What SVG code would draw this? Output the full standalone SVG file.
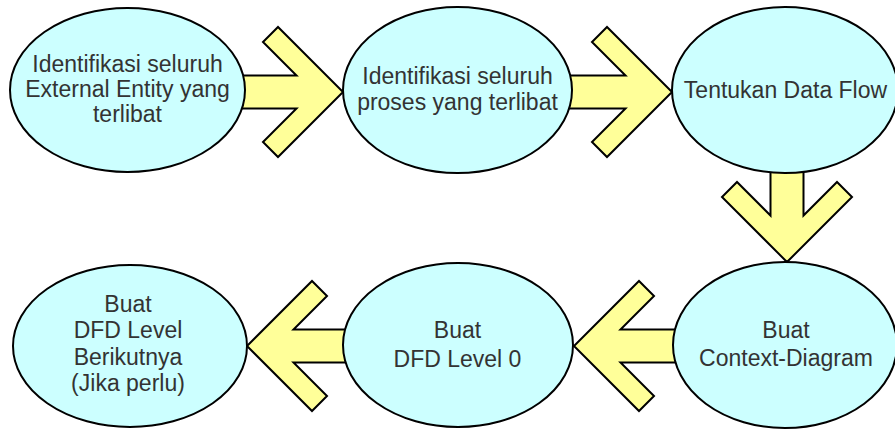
<svg xmlns="http://www.w3.org/2000/svg" width="895" height="429" viewBox="0 0 895 429">
<style>
.node ellipse{fill:#ccffff;stroke:#000;stroke-width:2}
.arrow{fill:#ffff99;stroke:#000;stroke-width:2;stroke-linejoin:miter}
text{font-family:"Liberation Sans",Arial,sans-serif;font-size:23px;fill:#333;text-anchor:middle}
</style>
<rect width="895" height="429" fill="#fff"/>
<g id="connectors">
<path class="arrow" d="M238,75.5 H296.5 L263,42 L278,27 L343,92 L278,157 L263,142 L296.5,108.5 H238 Z"/>
<path class="arrow" d="M566,75.5 H625.5 L592,42 L607,27 L672,92 L607,157 L592,142 L625.5,108.5 H566 Z"/>
<path class="arrow" d="M770.5,168 V215.5 L737,182 L722,197 L787,262 L852,197 L837,182 L803.5,215.5 V168 Z"/>
<path class="arrow" d="M678,329.5 H620.5 L654,296 L639,281 L574,346 L639,411 L654,396 L620.5,362.5 H678 Z"/>
<path class="arrow" d="M349,329.5 H293.5 L327,296 L312,281 L247,346 L312,411 L327,396 L293.5,362.5 H349 Z"/>
</g>
<g id="n1" class="node">
<ellipse cx="127.5" cy="90" rx="117.5" ry="82"/>
<text x="127.5" y="72">Identifikasi seluruh</text>
<text x="127.5" y="97">External Entity yang</text>
<text x="127.5" y="122">terlibat</text>
</g>
<g id="n2" class="node">
<ellipse cx="457.5" cy="90" rx="114.5" ry="83"/>
<text x="457.5" y="84">Identifikasi seluruh</text>
<text x="457.5" y="110">proses yang terlibat</text>
</g>
<g id="n3" class="node">
<ellipse cx="785" cy="90" rx="113" ry="83"/>
<text x="785.5" y="98">Tentukan Data Flow</text>
</g>
<g id="n4" class="node">
<ellipse cx="785" cy="345" rx="112" ry="83"/>
<text x="786" y="338">Buat</text>
<text x="786" y="366">Context-Diagram</text>
</g>
<g id="n5" class="node">
<ellipse cx="458" cy="345" rx="115" ry="82"/>
<text x="457.5" y="338">Buat</text>
<text x="457.5" y="367">DFD Level 0</text>
</g>
<g id="n6" class="node">
<ellipse cx="130" cy="346" rx="117" ry="81"/>
<text x="128" y="312">Buat</text>
<text x="128" y="338">DFD Level</text>
<text x="128" y="365">Berikutnya</text>
<text x="128" y="391">(Jika perlu)</text>
</g>
</svg>
